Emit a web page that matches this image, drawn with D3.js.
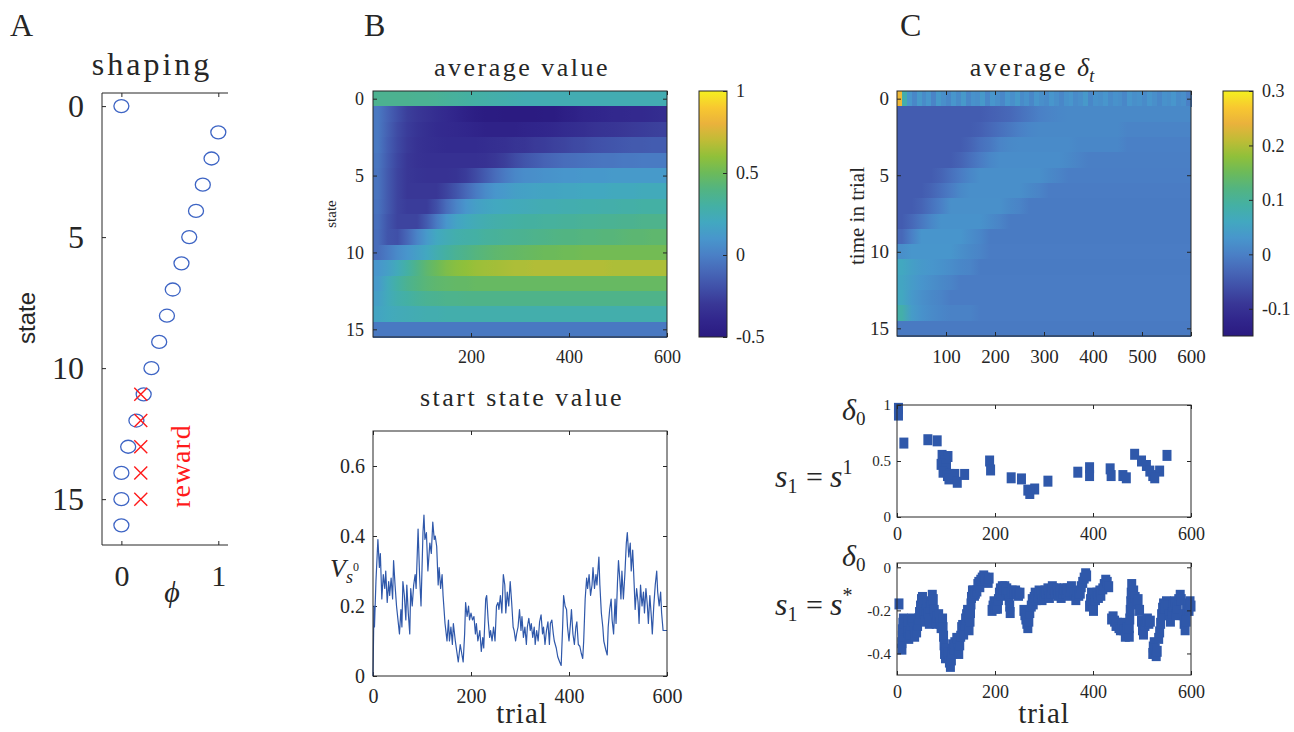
<!DOCTYPE html>
<html lang="en">
<head>
<meta charset="utf-8">
<script src="https://d3js.org/d3.v7.min.js"></script>
<title>shaping</title>
<style>
    body {margin: 0; background: #fff;}
    svg {display: block; font-family: "Liberation Serif", "Times New Roman", serif;}
</style>
</head>
<body>
<svg id="fig" width="1294" height="732"></svg>
<script>
    // ---------- data ----------
    // panel A: shaping potential per state
    var states = [0, 1, 2, 3, 4, 5, 6, 7, 8, 9, 10, 11, 12, 13, 14, 15, 16];
    var phi = [0, 1.0, 0.93, 0.84, 0.77, 0.70, 0.62, 0.53, 0.47, 0.39, 0.31, 0.23, 0.155, 0.07, 0, 0, 0];
    var rewardStates = [11, 12, 13, 14, 15];
    var rewardPhi = [0.2, 0.2, 0.2, 0.2, 0.2];

    // panel B: average value, rows = state 0..15, columns = trial bins across 0..600
    var valueRows = [
        [0.36,0.36,0.36,0.36,0.35,0.35,0.34,0.33,0.32,0.31,0.30,0.29,0.28,0.27,0.26,0.25,0.25,0.25,0.25,0.25,0.25,0.25,0.25,0.25,0.25,0.25,0.25,0.25,0.25,0.25],
        [-0.03,-0.12,-0.20,-0.27,-0.30,-0.33,-0.36,-0.38,-0.41,-0.44,-0.47,-0.48,-0.48,-0.49,-0.49,-0.49,-0.49,-0.48,-0.48,-0.46,-0.44,-0.42,-0.41,-0.40,-0.39,-0.39,-0.38,-0.38,-0.37,-0.36],
        [-0.03,-0.13,-0.22,-0.28,-0.32,-0.35,-0.37,-0.38,-0.39,-0.40,-0.42,-0.43,-0.43,-0.43,-0.43,-0.42,-0.41,-0.40,-0.39,-0.37,-0.36,-0.35,-0.33,-0.32,-0.31,-0.30,-0.29,-0.28,-0.27,-0.26],
        [-0.03,-0.14,-0.23,-0.29,-0.33,-0.35,-0.36,-0.37,-0.37,-0.37,-0.37,-0.36,-0.35,-0.34,-0.32,-0.31,-0.29,-0.28,-0.26,-0.25,-0.23,-0.22,-0.20,-0.19,-0.18,-0.17,-0.16,-0.16,-0.15,-0.15],
        [-0.04,-0.15,-0.24,-0.30,-0.33,-0.34,-0.34,-0.34,-0.34,-0.34,-0.34,-0.33,-0.30,-0.27,-0.22,-0.18,-0.15,-0.12,-0.10,-0.08,-0.07,-0.06,-0.05,-0.04,-0.04,-0.03,-0.03,-0.02,-0.02,-0.02],
        [-0.05,-0.16,-0.25,-0.30,-0.32,-0.33,-0.33,-0.33,-0.32,-0.28,-0.22,-0.15,-0.08,-0.02,0.03,0.06,0.07,0.08,0.09,0.10,0.10,0.11,0.11,0.11,0.12,0.12,0.12,0.12,0.12,0.12],
        [-0.05,-0.16,-0.25,-0.30,-0.30,-0.30,-0.30,-0.25,-0.18,-0.10,-0.02,0.05,0.10,0.12,0.15,0.16,0.17,0.18,0.18,0.19,0.19,0.20,0.20,0.20,0.21,0.21,0.21,0.22,0.22,0.22],
        [-0.06,-0.16,-0.25,-0.28,-0.28,-0.28,-0.20,-0.08,0.02,0.10,0.15,0.18,0.20,0.21,0.22,0.23,0.24,0.25,0.25,0.26,0.26,0.27,0.27,0.28,0.28,0.29,0.29,0.30,0.30,0.30],
        [-0.07,-0.18,-0.25,-0.25,-0.25,-0.15,-0.02,0.10,0.17,0.21,0.24,0.26,0.28,0.29,0.30,0.31,0.31,0.32,0.32,0.33,0.33,0.34,0.34,0.35,0.35,0.36,0.36,0.37,0.37,0.37],
        [-0.08,-0.18,-0.20,-0.10,0.02,0.12,0.20,0.24,0.27,0.29,0.30,0.32,0.33,0.34,0.35,0.36,0.37,0.38,0.39,0.40,0.40,0.41,0.41,0.42,0.42,0.43,0.44,0.44,0.45,0.45],
        [-0.08,-0.02,0.05,0.10,0.15,0.20,0.26,0.31,0.35,0.38,0.41,0.43,0.45,0.46,0.47,0.48,0.49,0.50,0.50,0.51,0.51,0.52,0.52,0.52,0.52,0.52,0.52,0.52,0.52,0.52],
        [0.10,0.15,0.22,0.30,0.38,0.45,0.50,0.55,0.58,0.60,0.62,0.63,0.64,0.65,0.66,0.66,0.67,0.67,0.67,0.67,0.67,0.67,0.67,0.67,0.66,0.66,0.66,0.66,0.66,0.66],
        [0.12,0.22,0.30,0.36,0.40,0.43,0.45,0.46,0.47,0.47,0.48,0.48,0.48,0.48,0.48,0.48,0.48,0.48,0.48,0.48,0.48,0.48,0.48,0.48,0.48,0.48,0.48,0.48,0.48,0.48],
        [0.15,0.22,0.27,0.30,0.33,0.35,0.36,0.37,0.37,0.38,0.38,0.38,0.38,0.38,0.38,0.38,0.38,0.38,0.38,0.38,0.38,0.38,0.38,0.38,0.38,0.38,0.38,0.38,0.38,0.38],
        [0.18,0.21,0.23,0.24,0.25,0.26,0.26,0.27,0.27,0.27,0.27,0.27,0.27,0.27,0.27,0.27,0.27,0.27,0.27,0.27,0.27,0.27,0.27,0.27,0.27,0.27,0.27,0.27,0.27,0.27],
        [-0.03,-0.03,-0.03,-0.03,-0.03,-0.03,-0.03,-0.03,-0.03,-0.03,-0.03,-0.03,-0.03,-0.03,-0.03,-0.03,-0.03,-0.03,-0.03,-0.03,-0.03,-0.03,-0.03,-0.03,-0.03,-0.03,-0.03,-0.03,-0.03,-0.03]
    ];

    // panel C: average delta, rows = time in trial 0..15 (row 0 at finer resolution)
    var deltaRows = [
        [0.25,0.08,0.03,0.01,0.035,0.015,0.03,0.005,0.035,0.02,0.01,0.03,0.015,0.035,0.01,0.025,0.02,0.035,0.01,0.03,0.02,0.01,0.03,0.02,0.035,0.015,0.025,0.01,0.03,0.02,0.015,0.03,0.02,0.01,0.025,0.03,0.015,0.02,0.035,0.01,0.025,0.02,0.03,0.015,0.025,0.02,0.01,0.03,0.02,0.025,0.015,0.03,0.02,0.01,0.025,0.02,0.03,0.015,0.02,0.0],
        [-0.045,-0.045,-0.045,-0.045,-0.045,-0.045,-0.045,-0.045,-0.045,-0.04,-0.035,-0.03,-0.02,-0.01,0,0.005,0.01,0.012,0.012,0.012,0.012,0.012,0.012,0.012,0.012,0.012,0.012,0.012,0.012,0.012],
        [-0.045,-0.045,-0.045,-0.045,-0.045,-0.045,-0.045,-0.045,-0.04,-0.03,-0.02,-0.01,0,0.008,0.012,0.012,0.012,0.012,0.012,0.012,0.012,0.012,0.012,0.006,0.006,0.006,0.006,0.006,0.006,0.006],
        [-0.045,-0.045,-0.045,-0.045,-0.045,-0.045,-0.045,-0.035,-0.02,-0.01,0.005,0.012,0.015,0.015,0.015,0.015,0.015,0.015,0.01,0.01,0.01,0.01,0.01,0,0,0,0,0,0,0],
        [-0.045,-0.045,-0.045,-0.045,-0.045,-0.045,-0.035,-0.02,-0.005,0.01,0.018,0.018,0.018,0.018,0.018,0.018,0.018,0.012,0.005,-0.002,-0.002,-0.002,-0.002,-0.002,-0.002,-0.002,-0.002,-0.002,-0.002,-0.002],
        [-0.045,-0.045,-0.045,-0.045,-0.035,-0.02,-0.005,0.01,0.02,0.02,0.02,0.02,0.02,0.02,0.02,0.012,0.005,-0.003,-0.003,-0.003,-0.003,-0.003,-0.003,-0.003,-0.003,-0.003,-0.003,-0.003,-0.003,-0.003],
        [-0.045,-0.045,-0.045,-0.035,-0.02,-0.005,0.012,0.02,0.02,0.02,0.02,0.02,0.02,0.012,0.005,-0.005,-0.005,-0.005,-0.005,-0.005,-0.005,-0.005,-0.005,-0.005,-0.005,-0.005,-0.005,-0.005,-0.005,-0.005],
        [-0.045,-0.045,-0.035,-0.018,0,0.022,0.022,0.022,0.022,0.022,0.022,0.012,0.005,-0.006,-0.006,-0.006,-0.006,-0.006,-0.006,-0.006,-0.006,-0.006,-0.006,-0.006,-0.006,-0.006,-0.006,-0.006,-0.006,-0.006],
        [-0.045,-0.03,-0.01,0.01,0.025,0.025,0.025,0.025,0.025,0.015,0.005,-0.006,-0.006,-0.006,-0.006,-0.006,-0.006,-0.006,-0.006,-0.006,-0.006,-0.006,-0.006,-0.006,-0.006,-0.006,-0.006,-0.006,-0.006,-0.006],
        [-0.03,0,0.028,0.028,0.028,0.028,0.028,0.018,0.008,-0.006,-0.006,-0.006,-0.006,-0.006,-0.006,-0.006,-0.006,-0.006,-0.006,-0.006,-0.006,-0.006,-0.006,-0.006,-0.006,-0.006,-0.006,-0.006,-0.006,-0.006],
        [0.02,0.03,0.03,0.03,0.03,0.03,0.02,0.012,0.005,-0.005,-0.005,-0.005,-0.005,-0.005,-0.005,-0.005,-0.005,-0.005,-0.005,-0.005,-0.005,-0.005,-0.005,-0.005,-0.005,-0.005,-0.005,-0.005,-0.005,-0.005],
        [0.06,0.045,0.035,0.03,0.025,0.018,0.01,0.005,-0.006,-0.006,-0.006,-0.006,-0.006,-0.006,-0.006,-0.006,-0.006,-0.006,-0.006,-0.006,-0.006,-0.006,-0.006,-0.006,-0.006,-0.006,-0.006,-0.006,-0.006,-0.006],
        [0.055,0.04,0.028,0.02,0.012,0.006,-0.005,-0.005,-0.005,-0.005,-0.005,-0.005,-0.005,-0.005,-0.005,-0.005,-0.005,-0.005,-0.005,-0.005,-0.005,-0.005,-0.005,-0.005,-0.005,-0.005,-0.005,-0.005,-0.005,-0.005],
        [0.06,0.035,0.022,0.012,0.005,-0.005,-0.005,-0.005,-0.005,-0.005,-0.005,-0.005,-0.005,-0.005,-0.005,-0.005,-0.005,-0.005,-0.005,-0.005,-0.005,-0.005,-0.005,-0.005,-0.005,-0.005,-0.005,-0.005,-0.005,-0.005],
        [0.085,0.04,0.025,0.015,0.008,0.002,0.002,0.002,-0.005,-0.005,-0.005,-0.005,-0.005,-0.005,-0.005,-0.005,-0.005,-0.005,-0.005,-0.005,-0.005,-0.005,-0.005,-0.005,-0.005,-0.005,-0.005,-0.005,-0.005,-0.005],
        [-0.008,-0.008,-0.008,-0.008,-0.008,-0.008,-0.008,-0.008,-0.008,-0.008,-0.008,-0.008,-0.008,-0.008,-0.008,-0.008,-0.008,-0.008,-0.008,-0.008,-0.008,-0.008,-0.008,-0.008,-0.008,-0.008,-0.008,-0.008,-0.008,-0.008]
    ];

    // start state value [trial, V]
    var startValue = [
        [0,0],[2,0.20],[3,0.14],[6,0.27],[10,0.39],[13,0.31],[15,0.35],[18,0.22],[21,0.29],[24,0.25],[26,0.30],[29,0.21],[32,0.27],[34,0.23],[37,0.28],[40,0.22],[42,0.33],[45,0.26],[48,0.20],[51,0.16],[54,0.12],[57,0.19],[59,0.14],[61,0.27],[64,0.23],[67,0.16],[69,0.26],[72,0.18],[75,0.12],[77,0.25],[80,0.20],[83,0.26],[86,0.29],[88,0.25],[92,0.42],[95,0.29],[98,0.20],[102,0.41],[104,0.46],[106,0.39],[109,0.41],[112,0.30],[114,0.34],[116,0.38],[119,0.35],[122,0.44],[125,0.39],[127,0.40],[130,0.37],[133,0.26],[135,0.31],[138,0.25],[141,0.29],[143,0.23],[147,0.15],[151,0.10],[154,0.16],[156,0.10],[159,0.14],[162,0.09],[164,0.15],[168,0.10],[171,0.07],[174,0.04],[178,0.09],[181,0.065],[184,0.04],[187,0.12],[189,0.21],[192,0.17],[195,0.20],[197,0.16],[200,0.18],[203,0.16],[206,0.17],[209,0.12],[211,0.15],[214,0.10],[218,0.13],[221,0.07],[224,0.11],[226,0.08],[230,0.22],[232,0.23],[235,0.16],[238,0.11],[240,0.13],[243,0.10],[246,0.14],[249,0.10],[252,0.20],[255,0.21],[257,0.19],[260,0.23],[263,0.18],[266,0.29],[269,0.26],[271,0.18],[274,0.24],[277,0.20],[280,0.27],[283,0.21],[286,0.14],[288,0.13],[291,0.10],
        [293,0.12],[296,0.14],[299,0.19],[302,0.13],[304,0.17],[307,0.11],[310,0.14],[313,0.09],[315,0.14],[318,0.165],[321,0.13],[323,0.15],[326,0.11],[329,0.14],[331,0.09],[334,0.13],[337,0.10],[340,0.155],[343,0.175],[346,0.12],[348,0.14],[351,0.09],[354,0.13],[357,0.155],[360,0.09],[362,0.15],[365,0.16],[368,0.12],[370,0.10],[374,0.08],[377,0.055],[381,0.04],[384,0.03],[387,0.14],[389,0.23],[392,0.20],[395,0.19],[397,0.14],[400,0.10],[403,0.15],[405,0.19],[408,0.12],[411,0.09],[414,0.14],[416,0.155],[419,0.09],[422,0.085],[425,0.065],[428,0.05],[430,0.10],[433,0.22],[436,0.28],[438,0.25],[441,0.29],[444,0.23],[447,0.26],[449,0.31],[452,0.25],[455,0.29],[457,0.26],[461,0.34],[463,0.26],[466,0.18],[469,0.14],[471,0.10],[475,0.075],[478,0.06],[480,0.14],[483,0.19],[486,0.22],[488,0.16],[491,0.12],[494,0.22],[496,0.15],[499,0.27],[501,0.33],[504,0.27],[506,0.22],[508,0.30],[511,0.22],[514,0.29],[517,0.38],[519,0.41],[522,0.34],[525,0.38],[527,0.30],[530,0.36],[533,0.26],[535,0.19],[538,0.25],[541,0.21],[543,0.15],[546,0.26],[549,0.20],[552,0.24],[554,0.18],[557,0.25],[560,0.20],[562,0.15],[565,0.23],[568,0.17],[570,0.12],[573,0.20],[576,0.26],[579,0.30],[581,0.24],[584,0.20],[587,0.24],[589,0.18],[592,0.13],[600,0.13]
    ];

    // delta_0 when s1 = s^1  [trial, delta]
    var deltaS1 = [
        [3,0.97],[3,0.91],[14,0.66],[63,0.69],[82,0.68],[92,0.55],[104,0.54],[97,0.50],[90,0.47],[101,0.46],[99,0.43],[94,0.40],[108,0.38],[103,0.37],[106,0.34],[118,0.38],[123,0.31],[138,0.38],
        [189,0.50],[191,0.42],[233,0.35],[254,0.34],[267,0.24],[281,0.25],[271,0.21],[308,0.32],[369,0.40],[393,0.44],[393,0.37],[435,0.43],[437,0.37],[461,0.37],[468,0.35],
        [485,0.56],[499,0.50],[509,0.46],[516,0.41],[522,0.37],[536,0.41],[526,0.35],[551,0.55]
    ];

    // delta_0 when s1 = s*  [trial, delta]
    var deltaStar = [
        [4,-0.17],
        [10,-0.38],[10,-0.35],[11,-0.32],[11,-0.29],[12,-0.26],[13,-0.24],
        [19,-0.28],[22,-0.25],[22,-0.30],[24,-0.33],[26,-0.31],[28,-0.27],[30,-0.24],[33,-0.25],[35,-0.28],[36,-0.32],
        [40,-0.30],[42,-0.27],[44,-0.24],[46,-0.21],[48,-0.18],[50,-0.15],[52,-0.14],[54,-0.17],[56,-0.21],[58,-0.25],
        [60,-0.20],[62,-0.17],[64,-0.21],[66,-0.26],[68,-0.19],
        [70,-0.16],[72,-0.13],[74,-0.15],[76,-0.20],[78,-0.24],[80,-0.26],
        [82,-0.23],[85,-0.22],[88,-0.26],[90,-0.28],
        [93,-0.24],[94,-0.28],[95,-0.32],[96,-0.36],[97,-0.40],[99,-0.42],[101,-0.38],
        [104,-0.40],[107,-0.44],[109,-0.46],[111,-0.43],[113,-0.40],[114,-0.36],[116,-0.38],[118,-0.35],
        [122,-0.33],[124,-0.38],[126,-0.40],[128,-0.36],[130,-0.32],[132,-0.28],[134,-0.27],
        [136,-0.31],[138,-0.27],[140,-0.24],[142,-0.22],[144,-0.20],[146,-0.23],[147,-0.29],
        [149,-0.25],[150,-0.21],[151,-0.17],[152,-0.14],[154,-0.11],[156,-0.11],[158,-0.13],[160,-0.12],
        [163,-0.11],[165,-0.08],[167,-0.07],[169,-0.09],[171,-0.06],
        [174,-0.05],[177,-0.04],[180,-0.05],[183,-0.06],[186,-0.07],[188,-0.05],
        [194,-0.20],[196,-0.18],[198,-0.16],[201,-0.19],[203,-0.17],[205,-0.19],
        [207,-0.15],[209,-0.12],[211,-0.10],[213,-0.13],[215,-0.09],
        [217,-0.10],[220,-0.09],[222,-0.11],[224,-0.10],
        [227,-0.12],[229,-0.15],[230,-0.18],[231,-0.21],[233,-0.12],[235,-0.11],
        [239,-0.12],[242,-0.11],[245,-0.12],[248,-0.13],[251,-0.12],
        [259,-0.20],[261,-0.22],[263,-0.24],[265,-0.26],[267,-0.28],[269,-0.25],[271,-0.21],
        [274,-0.18],[276,-0.15],[278,-0.17],[280,-0.14],[282,-0.12],[284,-0.15],
        [288,-0.14],[290,-0.11],[293,-0.12],[296,-0.15],[299,-0.13],[302,-0.11],
        [305,-0.12],[308,-0.10],[311,-0.14],[314,-0.12],[317,-0.09],
        [320,-0.10],[323,-0.12],[326,-0.10],[329,-0.13],[332,-0.11],
        [335,-0.14],[338,-0.12],[341,-0.10],[344,-0.12],
        [347,-0.10],[350,-0.13],[353,-0.11],[356,-0.09],
        [362,-0.12],[365,-0.15],[368,-0.11],[371,-0.13],
        [374,-0.12],[376,-0.09],[379,-0.07],[382,-0.05],[385,-0.03],[387,-0.04],
        [393,-0.18],[395,-0.15],[397,-0.12],[399,-0.17],[401,-0.20],
        [405,-0.15],[408,-0.12],[411,-0.14],[414,-0.11],[416,-0.13],
        [420,-0.10],[423,-0.08],[426,-0.06],[429,-0.07],[432,-0.09],
        [438,-0.24],[441,-0.23],[444,-0.25],[447,-0.27],[450,-0.26],[453,-0.28],[456,-0.29],
        [460,-0.26],[463,-0.29],[466,-0.32],[468,-0.30],[470,-0.28],
        [474,-0.32],[474,-0.28],[475,-0.24],[476,-0.20],[477,-0.16],[478,-0.12],[479,-0.08],
        [483,-0.11],[486,-0.14],[489,-0.17],[492,-0.15],[495,-0.20],
        [499,-0.25],[501,-0.29],[503,-0.31],[506,-0.27],[508,-0.25],
        [511,-0.24],[514,-0.26],[517,-0.25],
        [522,-0.40],[523,-0.37],[525,-0.35],[527,-0.38],[529,-0.41],[531,-0.39],
        [534,-0.33],[536,-0.30],[538,-0.26],[540,-0.22],[542,-0.19],[544,-0.17],
        [547,-0.19],[550,-0.16],[553,-0.18],[556,-0.22],[558,-0.25],
        [561,-0.21],[564,-0.18],[567,-0.16],[570,-0.22],[572,-0.19],
        [575,-0.15],[578,-0.13],[580,-0.15],
        [584,-0.22],[586,-0.26],[588,-0.29],[590,-0.25],[591,-0.20],
        [594,-0.17],[596,-0.20],[598,-0.16],[600,-0.18]
    ];

    // tick labels
    var stateTicks = [0, 5, 10, 15];
    var phiTicks = [0, 1];
    var trialTicksB = [200, 400, 600];
    var trialTicksC = [100, 200, 300, 400, 500, 600];
    var trialTicks = [0, 200, 400, 600];
    var vTicks = [0, 0.2, 0.4, 0.6];
    var cbTicksB = [-0.5, 0, 0.5, 1];
    var cbTicksC = [-0.1, 0, 0.1, 0.2, 0.3];
    var s1Ticks = [0, 0.5, 1];
    var sStarTicks = [-0.4, -0.2, 0];

    // parula-like colormap as it appears in the figure
    var cmapStops = [0, .067, .133, .2, .267, .333, .4, .467, .533, .6, .667, .733, .8, .867, .933, 1];
    var cmapColors = ['#2a1a80','#31268c','#393796','#4050a8','#4768b8','#4a80c6','#4896cc','#42a8c0',
                      '#44b0a4','#52b482','#6cba5a','#90c03a','#c0bc36','#eab23c','#f8c830','#f4f020'];

    // ---------- drawing ----------
    var ink = '#262626';
    var blue = '#2f58aa';
    var svg = d3.select('#fig');
    var defs = svg.append('defs');
    var cmap = d3.scaleLinear().domain(cmapStops).range(cmapColors).interpolate(d3.interpolateRgb).clamp(true);

    function axis(gen, tx, ty, values, opt) {
        opt = opt || {};
        var a = svg.append('g').attr('transform', 'translate(' + tx + ',' + ty + ')')
            .call(gen.tickValues(values).tickSizeInner(-4).tickSizeOuter(0).tickPadding(opt.pad || 8)
                .tickFormat(opt.nolabel ? function () { return ''; } : function (d) { return String(d); }));
        a.attr('font-family', null).attr('font-size', null);
        a.select('.domain').remove();
        a.selectAll('.tick line').attr('stroke', ink);
        a.selectAll('.tick text').attr('fill', ink).style('font-size', (opt.size || 18) + 'px');
        return a;
    }

    function box(x, y) {
        var xr = x.range(), yr = y.range();
        svg.append('rect')
            .attr('x', Math.min(xr[0], xr[1])).attr('y', Math.min(yr[0], yr[1]))
            .attr('width', Math.abs(xr[1] - xr[0])).attr('height', Math.abs(yr[1] - yr[0]))
            .attr('fill', 'none').attr('stroke', ink).attr('stroke-width', 1);
    }

    function allTicks(x, y, xt, yt, o) {
        var xr = x.range(), yr = y.range();
        var left = Math.min(xr[0], xr[1]), right = Math.max(xr[0], xr[1]);
        var top = Math.min(yr[0], yr[1]), bottom = Math.max(yr[0], yr[1]);
        axis(d3.axisLeft(y), left, 0, yt, {size: o.ySize, pad: o.yPad});
        axis(d3.axisRight(y), right, 0, yt, {nolabel: true});
        axis(d3.axisBottom(x), 0, bottom, xt, {size: o.xSize, pad: o.xPad});
        axis(d3.axisTop(x), 0, top, xt, {nolabel: true});
    }

    function text(x, y, s, size, extra) {
        var t = svg.append('text').attr('x', x).attr('y', y).text(s)
            .style('font-size', size + 'px').attr('fill', ink);
        if (extra) extra(t);
        return t;
    }

    // smooth rows use a gradient through the bin readings, fine rows use hard cells
    function heatmap(id, rows, x, y, lo, hi) {
        var g = svg.append('g');
        var col = function (d) { return cmap((d - lo) / (hi - lo)); };
        rows.forEach(function (row, r) {
            var n = row.length, y0 = y(r - 0.5), h = y(r + 0.5) - y(r - 0.5) + 0.5;
            if (n > 30) {
                g.selectAll(null).data(row).join('rect').attr('shape-rendering', 'crispEdges')
                    .attr('x', function (d, i) { return x(i * 600 / n); })
                    .attr('width', function (d, i) { return x((i + 1) * 600 / n) - x(i * 600 / n) + 0.5; })
                    .attr('y', y0).attr('height', h).attr('fill', col);
            } else {
                var gid = id + r;
                defs.append('linearGradient').attr('id', gid).attr('x1', 0).attr('x2', 1).attr('y1', 0).attr('y2', 0)
                    .selectAll('stop').data(row).join('stop')
                    .attr('offset', function (d, i) { return (i + 0.5) / n; })
                    .attr('stop-color', col);
                g.append('rect').attr('shape-rendering', 'crispEdges')
                    .attr('x', x(0)).attr('width', x(600) - x(0))
                    .attr('y', y0).attr('height', h).attr('fill', 'url(#' + gid + ')');
            }
        });
    }

    function colorbar(id, x0, x1, scale, ticks) {
        var grad = defs.append('linearGradient').attr('id', id)
            .attr('x1', 0).attr('y1', 1).attr('x2', 0).attr('y2', 0);
        grad.selectAll('stop').data(cmapStops).join('stop')
            .attr('offset', function (d) { return d; })
            .attr('stop-color', function (d, i) { return cmapColors[i]; });
        var yr = scale.range();
        svg.append('rect').attr('x', x0).attr('y', yr[1]).attr('width', x1 - x0).attr('height', yr[0] - yr[1])
            .attr('fill', 'url(#' + id + ')').attr('stroke', ink).attr('stroke-width', 1);
        axis(d3.axisRight(scale), x1, 0, ticks, {size: 18, pad: 9});
    }

    // ===== Panel A =====
    text(10, 36, 'A', 32);
    text(152, 75, 'shaping', 32, function (t) { t.attr('text-anchor', 'middle').style('letter-spacing', '3px'); });
    var xA = d3.scaleLinear().domain([-0.2, 1.1]).range([102, 228]);
    var yA = d3.scaleLinear().domain([-0.5, 16.75]).range([93, 545]);
    svg.append('path').attr('d', 'M228,93H102V545H228').attr('fill', 'none').attr('stroke', ink);
    axis(d3.axisLeft(yA), 102, 0, stateTicks, {size: 32, pad: 18});
    axis(d3.axisBottom(xA), 0, 545, phiTicks, {size: 30, pad: 20});
    axis(d3.axisTop(xA), 0, 93, phiTicks, {nolabel: true});
    svg.append('g').selectAll('ellipse').data(states).join('ellipse')
        .attr('cx', function (d, i) { return xA(phi[i]); }).attr('cy', function (d) { return yA(d); })
        .attr('rx', 7.5).attr('ry', 6.5).attr('fill', 'none').attr('stroke', '#3d64c4').attr('stroke-width', 1.3);
    svg.append('g').selectAll('path').data(rewardStates).join('path')
        .attr('d', function (d, i) {
            var cx = xA(rewardPhi[i]), cy = yA(d), r = 6.5;
            return 'M' + (cx - r) + ',' + (cy - r) + 'L' + (cx + r) + ',' + (cy + r) +
                   'M' + (cx - r) + ',' + (cy + r) + 'L' + (cx + r) + ',' + (cy - r);
        })
        .attr('stroke', '#ff1a1a').attr('stroke-width', 1.4).attr('fill', 'none');
    text(0, 0, 'reward', 28, function (t) {
        t.attr('transform', 'translate(190,466) rotate(-90)').attr('text-anchor', 'middle')
         .attr('fill', '#ff1a1a').style('letter-spacing', '1px');
    });
    text(0, 0, 'state', 24, function (t) {
        t.attr('transform', 'translate(35,318) rotate(-90)').attr('text-anchor', 'middle')
         .style('font-family', '"Liberation Sans", Arial, sans-serif');
    });
    text(172, 602, '\u03D5', 30, function (t) { t.attr('text-anchor', 'middle').style('font-style', 'italic'); });

    // ===== Panel B =====
    text(364, 36, 'B', 32);
    text(522, 76, 'average value', 26, function (t) { t.attr('text-anchor', 'middle').style('letter-spacing', '2.5px'); });
    var xB = d3.scaleLinear().domain([0, 600]).range([373, 667]);
    var yB = d3.scaleLinear().domain([-0.5, 15.5]).range([91, 337]);
    heatmap('vrow', valueRows, xB, yB, -0.5, 1);
    box(xB, yB);
    allTicks(xB, yB, trialTicksB, stateTicks, {ySize: 18, yPad: 9, xSize: 18, xPad: 13});
    text(0, 0, 'state', 15, function (t) { t.attr('transform', 'translate(336,214) rotate(-90)').attr('text-anchor', 'middle'); });
    colorbar('cbB', 699, 727, d3.scaleLinear().domain([-0.5, 1]).range([337, 91]), cbTicksB);

    text(522, 406, 'start state value', 26, function (t) { t.attr('text-anchor', 'middle').style('letter-spacing', '2.5px'); });
    var xL = d3.scaleLinear().domain([0, 600]).range([373, 667]);
    var yL = d3.scaleLinear().domain([0, 0.7]).range([676, 431]);
    allTicks(xL, yL, trialTicks, vTicks, {ySize: 20, yPad: 8, xSize: 20, xPad: 13});
    svg.append('path').datum(startValue)
        .attr('d', d3.line().x(function (d) { return xL(d[0]); }).y(function (d) { return yL(d[1]); }))
        .attr('fill', 'none').attr('stroke', blue).attr('stroke-width', 1.2).attr('stroke-linejoin', 'round');
    box(xL, yL);
    text(522, 723, 'trial', 29, function (t) { t.attr('text-anchor', 'middle').style('letter-spacing', '1px'); });
    var vl = text(330, 577, '', 26);
    vl.append('tspan').text('V').style('font-style', 'italic');
    vl.append('tspan').text('s').style('font-style', 'italic').style('font-size', '18px').attr('dy', 6);
    vl.append('tspan').text('0').style('font-size', '12px').attr('dy', -12);

    // ===== Panel C =====
    text(900, 36, 'C', 32);
    var tc = text(1032, 76, '', 26, function (t) { t.attr('text-anchor', 'middle'); });
    tc.append('tspan').text('average ').style('letter-spacing', '2.5px');
    tc.append('tspan').text('\u03B4').style('font-style', 'italic');
    tc.append('tspan').text('t').style('font-style', 'italic').style('font-size', '18px').attr('dy', 6);
    var xC = d3.scaleLinear().domain([0, 600]).range([897, 1191]);
    var yC = d3.scaleLinear().domain([-0.5, 15.5]).range([91, 336]);
    heatmap('drow', deltaRows, xC, yC, -0.15, 0.3);
    box(xC, yC);
    allTicks(xC, yC, trialTicksC, stateTicks, {ySize: 19, yPad: 8, xSize: 19, xPad: 14});
    text(0, 0, 'time in trial', 21, function (t) { t.attr('transform', 'translate(864,216) rotate(-90)').attr('text-anchor', 'middle'); });
    colorbar('cbC', 1223, 1253, d3.scaleLinear().domain([-0.15, 0.3]).range([336, 91]), cbTicksC);

    // scatter panels
    var xS = d3.scaleLinear().domain([0, 600]).range([897, 1191]);
    var yS1 = d3.scaleLinear().domain([0, 1]).range([517, 405]);
    var yS2 = d3.scaleLinear().domain([-0.5, 0.02]).range([675, 563]);

    function squares(data, y) {
        svg.append('g').selectAll('rect').data(data).join('rect')
            .attr('x', function (d) { return xS(d[0]) - 4.5; }).attr('y', function (d) { return y(d[1]) - 5.5; })
            .attr('width', 9).attr('height', 11).attr('fill', blue);
    }
    squares(deltaS1, yS1);
    box(xS, yS1);
    allTicks(xS, yS1, trialTicks, s1Ticks, {ySize: 15, yPad: 6, xSize: 18, xPad: 10});
    squares(deltaStar, yS2);
    box(xS, yS2);
    allTicks(xS, yS2, trialTicks, sStarTicks, {ySize: 15, yPad: 6, xSize: 18, xPad: 10});

    function deltaLabel(y) {
        var t = text(842, y, '', 30);
        t.append('tspan').text('\u03B4').style('font-style', 'italic');
        t.append('tspan').text('0').style('font-size', '19px').attr('dy', 5);
    }
    function sLabel(y, sup) {
        var t = text(775, y, '', 32);
        t.append('tspan').text('s').style('font-style', 'italic');
        t.append('tspan').text('1').style('font-size', '20px').attr('dy', 6);
        t.append('tspan').text('=').attr('x', 806).attr('dy', -6).style('font-size', '30px');
        t.append('tspan').text('s').attr('x', 830).style('font-style', 'italic');
        t.append('tspan').text(sup).style('font-size', '20px').attr('dy', -13);
    }
    deltaLabel(420);
    sLabel(487, '1');
    deltaLabel(566);
    sLabel(615, '*');
    text(1044, 723, 'trial', 29, function (t) { t.attr('text-anchor', 'middle').style('letter-spacing', '1px'); });
</script>
</body>
</html>
